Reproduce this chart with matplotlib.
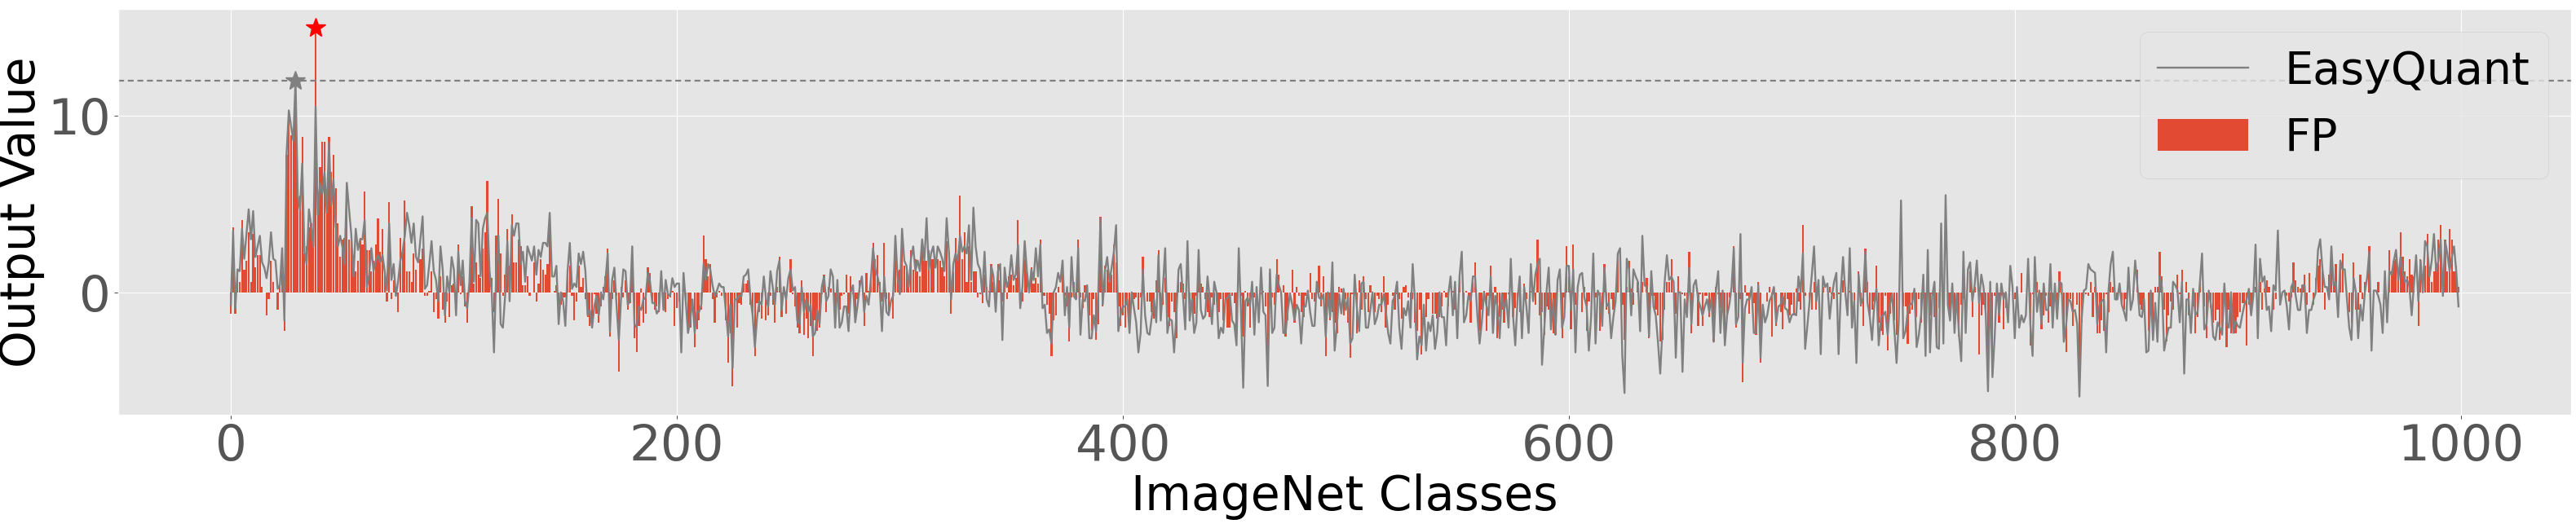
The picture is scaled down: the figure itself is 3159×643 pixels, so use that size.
import matplotlib.pyplot as plt
import numpy as np

plt.style.use("ggplot")

# FP output per ImageNet class (10 per row)
fp_values = [
    -1.2, 3.7, -1.2, 1.0, 0.6, 4.1, 1.3, 1.8, 3.4, 0.6,
    3.3, 1.4, 2.1, 2.1, 0.3, 0.0, -1.3, -0.4, 1.8, 0.6,
    0.0, -1.0, 0.4, 1.2, -2.2, 7.8, 9.8, 8.9, 8.7, 10.2,
    5.5, 5.5, 8.8, 2.2, 2.6, 3.7, 3.9, 2.6, 15.0, 4.4,
    7.1, 8.5, 8.5, 4.5, 8.8, 6.8, 7.8, 5.9, 3.9, 2.0,
    3.0, 3.1, 6.2, 3.0, 3.3, 2.1, 1.2, 1.8, 3.1, 2.7,
    5.7, 2.4, 2.4, 1.2, 1.8, 2.7, 4.2, 2.3, 3.6, 1.1,
    -0.5, 5.1, -0.4, 0.7, 0.0, -1.1, 3.1, 2.3, 5.2, 1.2,
    1.2, 0.6, 2.2, 1.3, 0.0, 1.9, 2.5, -0.2, -0.2, 0.1,
    1.2, -1.1, -0.4, -1.5, 0.9, -1.0, -1.7, -0.5, -1.4, 0.4,
    0.5, 0.1, 2.7, -0.1, 0.9, -0.8, -1.7, 0.7, 4.9, 0.5,
    1.7, 1.0, 0.8, 2.5, 3.4, 6.3, 1.7, 0.8, -1.1, 3.2,
    5.3, 2.2, -0.2, 1.0, 3.6, 1.5, 4.4, 1.7, 1.7, 3.0,
    2.6, 0.4, 0.4, 0.9, -0.2, 0.0, 1.7, -0.5, 0.5, 1.9,
    1.3, 1.0, 1.6, 3.5, 0.0, 0.1, 0.4, -0.7, -0.7, -0.3,
    -0.3, 1.3, 1.5, -0.2, -1.6, -0.5, 1.5, 0.3, 0.8, -0.4,
    -1.4, -1.9, -1.5, -0.1, -1.2, -1.7, -0.8, 0.3, 0.9, 2.5,
    -2.5, -0.4, 0.7, -0.2, -4.5, 0.3, -0.3, 0.7, -1.0, -0.6,
    1.1, -2.6, -3.4, -1.9, 0.2, -1.7, -1.2, 1.4, 1.1, -0.5,
    -1.0, -0.8, -1.1, 0.0, -0.2, -1.1, -0.4, -0.3, 0.1, -1.9,
    -0.9, -0.5, 0.0, 0.0, -0.7, -2.3, -2.0, 0.0, -3.1, -2.1,
    -1.6, -1.0, 3.2, 1.9, 0.9, 1.6, -0.4, -1.7, -0.3, 0.1,
    -0.2, 0.0, -1.6, -4.0, -2.3, -5.3, -0.9, -2.0, -0.6, -0.7,
    0.5, 0.5, 0.7, -0.7, -1.5, -3.6, -0.6, -1.1, -1.5, 0.0,
    -1.6, -1.3, -0.2, -0.7, -1.7, 0.3, 2.0, -1.4, 0.0, -1.2,
    0.0, 1.9, -0.1, -0.8, -2.0, -2.3, 0.7, -2.4, -1.5, -2.6,
    -1.9, -3.6, -1.6, -2.2, -2.0, -0.1, 1.0, -1.1, 0.3, 0.2,
    0.0, -2.0, 0.0, -1.0, -0.2, -0.1, 1.0, -1.2, 0.9, -0.1,
    -1.1, -0.4, 0.7, 0.0, -1.9, 1.1, 0.1, 0.7, 2.8, 1.9,
    2.1, 0.6, -0.5, 2.8, -0.4, -1.3, 0.0, -1.5, 2.5, 1.2,
    1.3, 2.6, 1.5, 1.2, 0.3, 2.4, 1.3, 1.9, 1.2, 0.9,
    3.0, 1.8, 1.8, 2.4, 1.9, 1.9, 0.0, 1.9, 1.8, 1.4,
    0.9, 2.9, 2.3, -1.2, 1.2, 3.1, 1.9, 5.5, 1.9, 3.4,
    0.6, 2.6, 0.6, 1.2, 1.2, -0.3, -0.1, -0.6, 1.0, 0.3,
    0.1, 1.6, 0.6, -0.1, 1.6, 0.7, -0.5, 0.7, -0.4, 0.9,
    1.0, 0.4, 0.8, 4.1, -0.5, -0.5, 1.9, 1.2, 0.0, 1.4,
    0.5, 0.8, 0.5, 3.0, -0.2, -0.2, -0.7, -1.2, -3.6, -1.6,
    -1.3, 0.3, 0.0, 1.8, -0.2, -0.8, -2.8, -0.3, 0.6, -0.4,
    3.0, -0.3, -0.9, 0.4, -0.3, -1.3, -2.2, -0.4, -2.7, -1.8,
    4.3, -0.8, 1.5, 1.3, 0.6, 1.0, 2.7, 1.7, -0.8, -1.9,
    -1.3, -2.0, -0.7, -2.3, 0.0, -0.4, -0.3, -1.0, -0.3, 2.0,
    0.0, -0.5, -0.5, -1.1, -1.5, 0.7, 2.4, -0.7, -0.7, 0.8,
    -1.4, -1.9, -0.5, -1.1, -2.6, 1.2, 0.6, 0.5, -0.4, 0.0,
    -0.7, -0.4, -1.2, -0.2, 0.9, 0.5, 0.3, -0.4, -1.1, -1.4,
    -0.3, -0.7, -0.5, -1.1, -0.4, -1.6, -0.4, -2.0, -2.0, -0.2,
    -0.6, -2.7, 0.0, -0.2, -2.5, 0.1, -0.8, -2.0, 0.3, -0.3,
    -0.5, 0.0, -0.1, 0.1, -0.8, -3.2, 1.1, -0.3, -0.7, 1.9,
    1.0, -0.2, 0.4, -2.5, -1.6, -0.4, 1.3, -1.7, 0.3, -0.2,
    -1.1, -1.4, -0.2, 0.1, 1.1, -0.4, -0.5, 0.0, 1.5, -0.8,
    0.9, -3.6, -0.2, -1.6, -1.1, -1.7, -2.3, 0.3, 0.2, -1.3,
    -0.4, -1.7, -3.7, -0.1, -0.1, -2.3, 0.7, -1.0, 0.9, -0.4,
    -1.1, 0.4, -0.4, -1.1, -0.2, -0.4, -1.1, 0.9, -2.0, -0.7,
    0.0, -0.2, -1.0, -0.1, -0.4, -1.5, 0.3, 0.4, -0.3, -2.0,
    -0.4, -1.7, -2.2, -1.0, -3.5, 0.0, -1.4, -0.4, 0.0, -1.2,
    -1.2, -1.5, -1.4, -0.8, 0.1, -0.3, -0.8, 0.0, 0.1, -1.0,
    0.0, 0.8, 0.0, -0.7, 0.1, -0.4, -1.7, 0.6, 1.7, 0.0,
    -2.2, -1.0, 0.1, -2.2, -0.2, 1.5, -1.5, 0.3, -2.6, -1.4,
    -1.0, -1.7, -0.8, -0.1, 0.0, -1.4, -0.9, -0.7, -1.1, 0.0,
    0.5, -0.4, 0.0, 0.1, -0.5, -0.7, 3.0, -1.3, -1.1, -2.4,
    -0.8, -1.0, -2.1, -2.3, -2.4, 0.0, 0.0, -2.6, -0.3, 2.6,
    0.9, -2.1, 2.7, -0.7, 0.0, 0.0, -1.1, 0.3, -2.2, -0.5,
    0.0, 0.0, -0.3, 0.0, -2.2, -1.1, 1.6, -1.0, -1.2, -0.4,
    -1.0, 0.0, 1.9, 0.0, -0.7, -2.7, 0.3, 1.8, 0.2, -0.7,
    0.0, 0.6, 0.0, 0.6, 0.0, 0.8, -2.6, -0.2, -0.2, -1.0,
    -1.3, -2.8, -2.7, -1.0, 0.6, 0.6, 1.9, 0.0, -1.2, 0.9,
    0.0, -0.1, -0.2, -1.0, 2.3, -2.3, 0.0, 0.0, -1.9, -0.1,
    -1.9, -0.2, -0.2, -1.4, -0.3, -2.8, 0.3, -0.1, -0.9, -0.4,
    -3.0, -1.3, -0.3, 0.0, 2.6, -2.0, -1.3, -0.4, -5.1, 0.4,
    -0.2, -1.2, 0.0, -0.6, -2.4, 0.6, -4.0, 0.0, 0.0, -0.5,
    0.3, -2.5, -0.1, -1.9, 0.0, -1.1, -2.1, -0.7, -0.4, -1.3,
    -0.7, -1.3, 0.2, -0.5, -1.0, 3.8, -0.2, 0.0, -0.4, -1.0,
    0.6, -1.0, 0.4, 0.0, 0.3, 0.0, 0.0, 0.3, -0.1, -0.4,
    0.0, -0.1, 0.0, 0.7, 0.3, 0.0, 0.1, -1.9, -1.0, 0.0,
    1.2, -0.8, -1.9, 2.5, 0.6, -1.4, -1.0, -0.5, 1.5, -1.7,
    -2.2, -2.4, -0.2, -3.3, -1.2, -0.1, -1.6, -2.4, 0.0, 0.0,
    -0.8, -0.8, -2.9, -1.2, -1.0, -0.3, -1.4, -0.4, -1.7, 0.0,
    -3.4, -0.1, -1.3, -0.1, -1.4, -3.1, -0.9, 0.0, 0.0, 0.0,
    -0.7, -1.1, -0.4, -2.3, -0.4, -2.5, -0.7, -0.4, 0.0, 0.0,
    1.2, -1.4, 0.3, 0.0, -3.5, -1.3, -0.7, -1.0, -3.3, -0.5,
    -3.4, -0.2, -0.3, -1.7, -0.2, -2.1, -0.9, 0.0, 0.0, 0.0,
    -0.4, -0.1, 0.0, 1.1, 0.0, 0.0, 0.0, -3.0, -0.1, 0.0,
    0.6, -0.1, -2.1, -1.3, -0.2, -1.7, -0.8, -0.7, -0.3, -1.1,
    1.2, -0.1, -2.4, -3.4, -0.7, -0.4, -1.9, 0.0, -0.7, -4.0,
    -1.7, 0.0, -0.1, -0.2, 0.6, -1.4, 0.3, -2.3, -2.3, -1.6,
    -2.2, -0.1, -1.1, 0.6, 0.3, 0.0, -0.4, 0.3, -0.7, -1.0,
    -0.4, 0.0, 0.0, -0.1, 0.0, 1.3, -0.7, -1.0, -0.4, 0.0,
    -2.2, -0.4, -2.7, 0.3, 0.3, 2.3, 0.9, -1.0, -2.8, -1.3,
    -0.5, -1.0, 0.0, 1.0, -0.1, 1.3, 0.0, 0.6, -1.3, 0.0,
    -0.8, -2.3, -1.4, 0.6, 0.0, -0.8, -2.6, -0.1, -0.9, -1.7,
    -1.6, -1.0, -2.7, -2.4, -0.1, -3.1, -1.0, -2.3, -1.9, -2.3,
    -1.4, -1.1, -0.6, -0.6, -3.0, -0.7, -1.0, -0.4, 0.3, 0.0,
    0.6, -1.0, 0.2, 0.7, 0.3, 0.0, -1.0, -0.4, 0.0, -0.1,
    0.0, 0.0, -0.2, -0.5, -0.3, 1.7, 0.7, 0.3, 0.2, 0.4,
    1.0, -0.7, 1.1, 0.0, -0.7, 0.8, 1.5, 1.9, 1.2, -1.0,
    0.0, 1.0, 1.6, 0.6, 1.6, 0.0, 1.8, 2.2, 0.0, 0.0,
    -1.1, -1.7, 1.7, -1.0, -1.0, 1.0, -0.4, 0.6, 0.0, 2.6,
    0.0, 0.0, 0.0, 0.6, 0.0, 0.0, -0.4, 0.0, 2.4, 1.2,
    1.8, 1.9, 0.8, 3.4, 2.0, 1.2, 0.9, 1.9, 1.0, 0.9,
    0.0, -1.9, 1.9, 0.0, 1.5, 3.3, 1.3, 0.6, 1.2, 1.6,
    3.0, 3.8, 0.6, 3.0, 1.2, 3.6, 3.0, 1.2, 1.5, 0.3,
]

# EasyQuant output per ImageNet class
easyquant_values = [
    -0.7, 3.5, -0.9, 1.3, 1.2, 3.6, 1.9, 3.3, 4.7, 3.0,
    4.6, 2.0, 2.6, 3.2, 1.7, 1.4, 0.8, 1.7, 3.4, 1.9,
    1.8, 0.2, 0.4, 2.5, -1.6, 7.9, 10.3, 9.4, 8.6, 12.0,
    5.5, 4.7, 7.3, 2.3, 1.6, 4.7, 3.8, 2.6, 10.5, 4.4,
    6.2, 5.6, 6.8, 4.5, 8.5, 4.9, 6.4, 3.8, 2.6, 3.2,
    2.6, 1.6, 6.2, 4.7, 3.3, 0.9, 3.6, 2.4, 3.0, 3.0,
    4.1, 0.3, 1.0, 2.5, 1.2, 1.8, 2.1, 1.7, 2.1, 1.2,
    0.1, 3.9, 0.7, 1.6, -0.2, 0.6, 1.8, 2.3, 3.2, 4.5,
    3.8, 2.8, 3.9, 2.0, 1.7, 3.0, 4.3, 0.2, 0.4, 1.6,
    2.9, 1.2, 0.7, -0.5, 2.6, 1.3, -1.3, 0.9, 0.0, 2.0,
    1.3, -1.3, 2.3, 0.4, 1.8, -0.5, -0.9, 0.6, 4.2, 0.6,
    4.1, 3.9, 0.9, 3.6, 4.2, 4.5, 1.2, 0.0, -3.4, 1.2,
    3.2, -1.8, -2.0, -0.2, 2.9, -0.5, 3.8, 3.2, 3.9, 3.9,
    1.6, 2.3, 0.6, 2.6, 2.2, 1.8, 2.6, 1.0, 2.4, 2.0,
    2.8, 2.8, 2.6, 4.5, 0.9, 0.9, 1.5, -1.8, 0.0, -0.5,
    -1.9, 1.2, 2.8, 0.2, 0.5, 0.3, 2.2, 1.6, 2.3, 1.2,
    -1.3, -1.0, -2.0, -0.8, -0.2, -1.3, 0.0, -0.4, 0.7, 2.2,
    -2.2, 0.7, 1.4, -0.8, -2.7, -0.3, 1.3, 1.2, -0.7, -0.5,
    2.6, -1.8, -2.0, -0.8, -1.0, -0.4, -0.3, 1.1, 0.6, -0.6,
    -0.6, -1.2, -1.0, 1.2, -1.0, 0.7, -0.1, -0.2, 0.8, 0.3,
    0.5, 0.5, -3.4, 1.1, -0.5, -2.3, -1.6, -0.4, -2.3, -1.1,
    -1.1, -0.7, 1.6, 0.7, 1.6, 1.3, 0.4, -0.2, 0.1, 0.5,
    0.3, 0.3, -1.1, -2.5, -0.7, -4.3, -0.4, -0.4, -0.2, -0.2,
    0.9, 1.0, 1.3, -0.3, -1.3, -3.1, -1.4, -0.5, -0.7, 0.9,
    -0.4, -0.8, 1.2, 0.3, -0.7, 1.2, 1.8, -1.0, 0.3, -0.4,
    0.8, 1.3, 0.1, 0.3, -1.6, -1.8, 0.3, -1.1, -0.4, -1.1,
    -0.7, -2.5, -2.3, -1.0, -1.8, 0.3, 0.9, -0.5, -0.2, 1.3,
    0.9, -2.0, 0.7, -2.0, -1.7, -0.8, -0.8, -2.2, 0.0, 0.4,
    -1.7, -0.8, 0.3, 0.9, -1.1, -0.2, -0.7, 0.7, 2.5, 1.3,
    0.9, 0.3, -2.2, 0.9, -1.1, -1.3, -0.5, -0.2, 3.2, 0.9,
    -0.1, 3.6, 1.8, 1.5, 0.3, 1.9, 2.6, 1.2, 1.8, 1.2,
    3.0, 1.8, 4.2, 1.3, 2.2, 2.6, 1.4, 2.6, 2.3, 1.9,
    1.2, 4.2, 2.3, -0.4, 1.6, 2.2, 1.8, 3.2, 2.3, 2.6,
    2.2, 3.8, 0.7, 4.8, 2.6, 1.6, 1.3, -0.1, 2.3, -0.4,
    -0.8, 1.5, 0.9, -1.1, 1.2, 1.6, -2.7, 1.4, 0.3, 0.7,
    2.1, 0.7, 1.0, 2.7, -0.9, 0.3, 2.9, 1.2, 0.0, 1.3,
    0.7, 2.5, 0.9, 2.7, -0.9, -0.7, -2.3, -2.1, -2.9, 0.0,
    0.3, 1.1, 0.6, 1.8, -1.3, 0.3, -2.0, 2.0, -0.2, -0.4,
    2.5, -2.4, -0.4, -0.5, 0.4, -2.6, -2.6, -1.3, -2.2, 0.0,
    4.2, -0.7, 1.2, 2.0, 0.6, 1.4, 2.3, 3.8, -2.2, -1.3,
    -0.8, -0.8, -0.4, -2.3, 0.0, -0.9, -1.7, -3.4, -2.3, 1.3,
    -1.3, -2.3, -2.4, -1.4, -0.4, -1.7, 2.1, -1.6, 0.3, 2.5,
    -2.3, -1.5, -1.6, -3.4, -1.3, 1.3, 1.6, -0.2, -2.1, 2.9,
    -1.6, -0.4, -2.3, -1.7, 2.4, -1.0, -1.5, -1.3, 0.9, -0.4,
    -1.8, 0.6, 0.0, -2.6, -2.0, -2.3, -0.4, -0.3, -0.1, -1.6,
    -1.8, -3.0, 2.5, -1.1, -5.4, -0.5, -0.3, -0.8, 0.6, -2.4,
    0.3, -1.7, 1.4, -1.1, -1.3, -5.3, 1.3, -2.3, -2.0, 1.0,
    0.4, 0.0, -2.3, -2.3, -1.0, -0.1, -0.7, -1.6, -0.7, -1.0,
    -2.9, -0.8, -0.8, 0.1, -1.1, -1.9, -1.9, 0.6, -0.3, -0.4,
    -0.1, -2.5, 0.0, -1.4, 1.7, -3.3, -1.9, -0.1, -1.2, 0.2,
    -1.0, -0.3, -2.9, -2.6, 1.0, -0.9, -2.2, 0.5, 0.6, -2.0,
    -2.0, -1.0, 0.0, -1.8, -1.4, -0.7, -0.7, -0.1, -1.1, -2.3,
    -2.9, -0.5, -0.2, 0.6, -2.0, -3.2, -0.9, -1.3, -0.5, -2.0,
    1.6, -0.5, -3.8, -2.5, -3.0, -0.7, -3.3, -1.7, -2.2, -1.3,
    -3.2, -2.3, 0.0, -1.4, -1.4, -3.0, -0.1, 0.9, -1.3, 0.6,
    -2.6, 0.9, 2.3, -1.7, -1.3, -0.2, -0.5, 0.9, 0.9, -1.3,
    -2.9, -1.7, 0.0, -0.7, -1.3, 0.9, -2.3, -0.2, -0.8, -2.6,
    -0.1, -1.0, -0.4, -2.0, 1.9, -1.3, -3.0, -0.5, 0.9, -2.6,
    0.3, -0.8, -2.3, 1.6, -0.5, 1.0, 1.6, 1.9, -4.1, -2.1,
    0.0, 1.4, -2.1, -0.4, -2.4, 0.7, 1.3, -2.0, -1.4, 1.5,
    1.5, -1.0, 1.3, -3.4, 0.3, 1.0, 1.1, -0.3, -0.8, -3.3,
    -1.4, 2.2, -2.9, 0.1, -0.2, -1.9, 1.4, -0.8, -0.6, -2.6,
    -1.4, -0.5, 2.2, 2.5, -3.6, -5.7, 1.9, 1.3, -1.3, 1.3,
    0.9, 0.6, -2.2, 3.2, 0.4, 0.3, -2.5, 1.2, -0.8, -1.3,
    -2.8, -4.6, -2.1, 0.6, 2.1, 0.7, 0.9, 0.6, -3.7, 0.0,
    0.0, -4.5, -0.4, -1.4, 1.4, -1.8, 0.4, 0.7, -0.4, -0.8,
    -1.3, -0.8, -0.4, -1.1, -0.3, -2.8, 0.1, 1.2, -2.3, 0.1,
    -3.0, -1.3, -0.7, 0.3, 2.5, -1.8, -1.4, 3.3, -4.0, -0.9,
    -0.4, -0.4, 0.3, -2.3, -2.3, 0.4, -3.7, -0.7, -1.7, -1.3,
    -0.5, -0.2, 0.3, -1.7, -0.8, -0.7, -0.2, -0.9, -1.0, -1.7,
    -1.3, -1.2, -1.3, 0.9, 0.0, 2.2, -3.2, -1.9, -0.5, 1.0,
    2.6, -0.5, 0.7, -3.5, 0.9, 0.3, 0.5, -1.5, -0.2, 0.6,
    1.1, -3.5, 0.1, 2.0, 0.0, -1.3, 2.5, -2.0, -0.5, -4.0,
    1.0, -0.7, -0.3, 2.3, -0.6, -1.4, -2.7, -0.7, 0.2, -3.0,
    -1.4, -1.3, -1.1, -2.4, -0.7, -0.1, -2.1, -4.0, -1.6, 5.2,
    -2.6, -2.2, -1.1, -0.7, -0.6, 0.2, -3.1, -2.4, -1.3, 1.0,
    -3.6, 2.4, -3.4, -0.2, 0.6, -3.1, -3.2, 3.9, -2.9, 5.5,
    -0.7, -1.6, 0.5, -2.3, -0.1, -2.4, -3.9, 2.3, -2.3, 1.3,
    1.7, -0.5, 0.4, 1.8, -0.6, 1.0, 0.3, -1.2, -5.6, 0.6,
    -4.8, -2.5, 0.5, -1.3, 0.5, -0.4, 0.0, -1.7, 1.5, 0.3,
    -2.6, 0.3, -2.0, -1.3, -1.7, -1.3, 1.9, -1.8, -3.6, 2.0,
    -1.1, 0.1, -1.8, 0.5, -1.0, -1.0, 1.6, -2.0, 0.5, -1.5,
    0.6, 0.5, -2.8, -1.9, -0.4, -0.5, -1.1, -1.0, -1.8, -5.9,
    -1.5, 0.1, 0.2, 1.6, 1.3, 1.2, 1.1, -1.8, -0.7, -0.5,
    -0.4, -3.4, 0.0, 1.6, 2.3, -0.4, -0.4, 0.5, -0.7, -1.1,
    -1.6, 1.4, -1.0, -0.4, 1.8, 0.4, -1.3, -1.4, -0.4, -3.4,
    -3.3, 0.1, -2.7, -0.6, -2.8, 0.9, 0.3, -3.3, -2.6, -2.0,
    -2.0, 0.6, 0.4, 0.1, -1.7, 0.6, -4.6, -0.4, -0.4, -2.3,
    0.2, -1.3, -1.1, 0.5, 2.2, -2.1, -1.8, 0.1, -0.7, -2.5,
    -2.7, -1.7, -2.0, -2.4, 0.5, -1.7, -2.0, 0.0, -2.3, -1.6,
    -1.9, -2.0, -1.3, -0.7, -0.4, 0.2, -1.3, -0.2, 2.7, -2.6,
    1.9, 0.6, 0.9, -1.0, -0.8, -2.2, 0.4, 0.1, 3.5, -0.7,
    0.0, 0.1, -0.8, -2.1, 0.3, 0.6, -0.2, -1.0, -1.0, 0.4,
    0.4, -2.3, -1.0, -1.0, -0.4, 0.0, 2.4, 3.0, 1.3, 0.3,
    0.3, -0.4, 2.6, 0.4, 0.6, -1.4, 1.8, 1.3, 1.3, -0.4,
    -2.0, -2.7, 0.8, 0.0, -2.6, -0.7, -1.6, 0.0, 0.8, 2.3,
    -3.3, 0.1, 0.1, -0.2, -0.7, -2.3, 1.2, -1.7, 1.2, 1.0,
    1.8, 2.4, 0.7, 2.0, 1.2, 0.6, 0.7, 0.3, -1.3, 0.4,
    2.1, -0.5, 1.8, 0.0, 2.9, 2.6, 0.9, 1.8, 3.3, 1.2,
    1.8, 3.0, -0.2, 2.9, 2.2, 1.2, 2.0, 2.6, 1.2, -0.8,
]

classes = np.arange(len(fp_values))

fig, ax = plt.subplots(figsize=(31.59, 6.43), dpi=100)
fig.subplots_adjust(left=0.046, right=0.998, bottom=0.208, top=0.983)

ax.bar(classes, fp_values, color="#E24A33", label="FP")
ax.plot(classes, easyquant_values, color="gray", lw=1.7, label="EasyQuant")

# mark the maxima of both outputs
i_eq = int(np.argmax(easyquant_values))
i_fp = int(np.argmax(fp_values))
ax.axhline(easyquant_values[i_eq], color="gray", lw=1.6, linestyle=(0, (3.2, 2.1)))
ax.plot(i_eq, easyquant_values[i_eq], marker="*", color="gray", ms=18)
ax.plot(i_fp, fp_values[i_fp], marker="*", color="red", ms=18)

ax.set_yticks([0, 10])
ax.tick_params(labelsize=44)
ax.set_xlabel("ImageNet Classes", fontsize=42, color="black", labelpad=2)
ax.set_ylabel("Output Value", fontsize=42, color="black", labelpad=2)
ax.legend(fontsize=40, loc="upper right")

fig.savefig("out.png", dpi=100)
